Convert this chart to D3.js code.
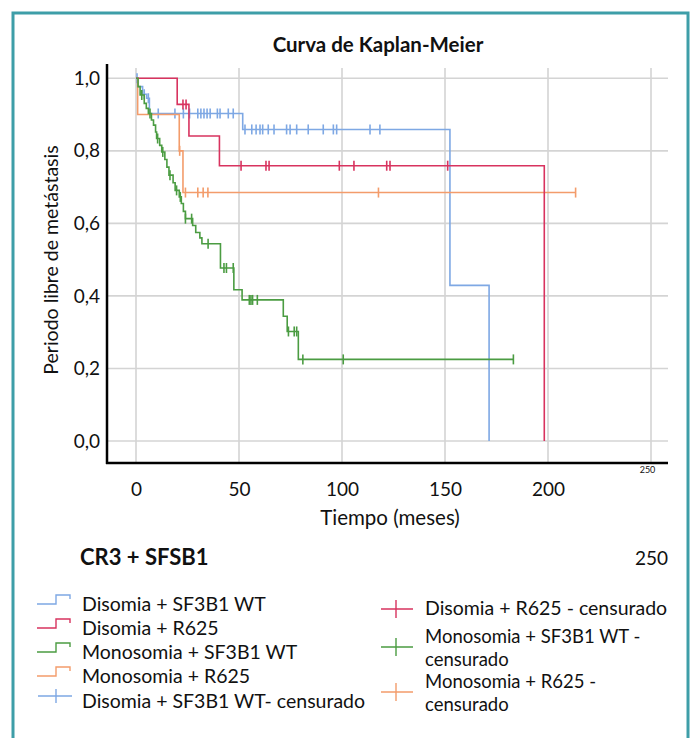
<!DOCTYPE html>
<html>
<head>
<meta charset="utf-8">
<script src="https://cdn.jsdelivr.net/npm/d3@7/dist/d3.min.js"></script>
<style>
  body { margin: 0; background: #fff; }
  text { font-family: Lato, "Open Sans", sans-serif; fill: #111; }
</style>
</head>
<body>
<svg id="chart"></svg>
<script>
// --- datos ---
const xTicks = [0, 50, 100, 150, 200, 250];
const yTicks = [0, 0.2, 0.4, 0.6, 0.8, 1.0];

// [tiempo, supervivencia] de cada escalón
const blueSteps = [[0, 1], [0.8, 0.977], [3.2, 0.956], [5.2, 0.945], [6.5, 0.903], [51.8, 0.859], [152.4, 0.429], [171.4, 0]];
const blueCens = [0.5, 4, 6, 10.8, 18.9, 23, 26, 30, 31.5, 33, 34.5, 36, 39.5, 40.8, 44.8, 47.2,
  52.9, 56.2, 58.3, 60.2, 61.5, 64.2, 67, 73.1, 74.8, 78, 83.6, 90.9, 95.8, 97.4, 113.6, 118.4];
const blueEnd = 171.4;

const redSteps = [[0, 1], [20, 0.928], [25.7, 0.841], [40.5, 0.759], [198.2, 0]];
const redCens = [22.8, 24.3, 51, 63.1, 64.6, 98.7, 105.8, 121.7, 123.3, 151.3];
const redEnd = 198.2;

const greenSteps = [[0, 1], [1, 0.977], [2, 0.954], [4, 0.931], [5, 0.917], [6, 0.903], [7.5, 0.885],
  [8.5, 0.871], [9.5, 0.852], [10, 0.834], [11.5, 0.815], [12.5, 0.797], [14, 0.776], [15, 0.755],
  [16, 0.733], [18, 0.712], [19, 0.691], [21, 0.673], [22, 0.655], [23, 0.633], [24, 0.613],
  [27.5, 0.594], [29, 0.575], [31, 0.56], [32, 0.544], [41, 0.477], [47.5, 0.417], [51.5, 0.389],
  [71.5, 0.344], [73.4, 0.302], [78.8, 0.225]];
const greenCens = [2.8, 6.8, 10.5, 13, 16.5, 19.7, 21.5, 24, 27, 35, 42.7, 43.9, 47.2,
  55, 55.8, 56.6, 58.9, 74, 76.8, 78, 81, 100.6, 183.2];
const greenEnd = 183.2;

const orangeSteps = [[0, 1], [0.8, 0.90], [21, 0.80], [22.8, 0.685]];
const orangeCens = [21.2, 24, 30, 32.6, 34.9, 117.7, 213.4];
const orangeEnd = 213.4;

const legendLeft = ["Disomia + SF3B1 WT", "Disomia + R625", "Monosomia + SF3B1 WT", "Monosomia + R625", "Disomia + SF3B1 WT- censurado"];
const legendRight = [["Disomia + R625 - censurado"], ["Monosomia + SF3B1 WT -", "censurado"], ["Monosomia + R625 -", "censurado"]];

const colors = { blue: "#7ea8e4", red: "#d8335f", green: "#4b9c42", orange: "#f39c6b" };

const series = [
  { steps: blueSteps, cens: blueCens, end: blueEnd, color: colors.blue },
  { steps: orangeSteps, cens: orangeCens, end: orangeEnd, color: colors.orange },
  { steps: redSteps, cens: redCens, end: redEnd, color: colors.red },
  { steps: greenSteps, cens: greenCens, end: greenEnd, color: colors.green }
];

// --- lienzo ---
const W = 691, H = 738;
const svg = d3.select("#chart").attr("width", W).attr("height", H);

// marco
svg.append("rect")
  .attr("x", 13).attr("y", 13).attr("width", 675).attr("height", 740)
  .attr("fill", "none").attr("stroke", "#3e9ea8").attr("stroke-width", 3);

// --- escalas ---
const x = d3.scaleLinear().domain([0, 250]).range([136, 651]);
const y = d3.scaleLinear().domain([0, 1]).range([441, 78.3]);
const plotLeft = 107, plotRight = 668, plotTop = 64, plotBottom = 463;

// rejilla
svg.append("g").selectAll("line").data(xTicks).join("line")
  .attr("x1", d => x(d)).attr("x2", d => x(d))
  .attr("y1", plotTop + 4).attr("y2", plotBottom)
  .attr("stroke", "#d4d4d4").attr("stroke-width", 1.6);
svg.append("g").selectAll("line").data(yTicks).join("line")
  .attr("x1", plotLeft).attr("x2", plotRight)
  .attr("y1", d => y(d)).attr("y2", d => y(d))
  .attr("stroke", "#d4d4d4").attr("stroke-width", 1.6);

// --- curvas ---
const line = d3.line().x(d => x(d[0])).y(d => y(d[1])).curve(d3.curveStepAfter);

function survAt(steps, t) {
  let s = steps[0][1];
  steps.forEach(d => { if (d[0] <= t) s = d[1]; });
  return s;
}

series.forEach(s => {
  const pts = s.steps.concat([[s.end, s.steps[s.steps.length - 1][1]]]);
  svg.append("path")
    .attr("d", line(pts))
    .attr("fill", "none").attr("stroke", s.color).attr("stroke-width", 1.6);

  svg.append("g").selectAll("line").data(s.cens).join("line")
    .attr("x1", d => x(d)).attr("x2", d => x(d))
    .attr("y1", d => y(survAt(s.steps, d)) - 5)
    .attr("y2", d => y(survAt(s.steps, d)) + 5)
    .attr("stroke", s.color).attr("stroke-width", 1.6);
});

// --- ejes ---
svg.append("line").attr("x1", plotLeft).attr("x2", plotLeft).attr("y1", plotTop).attr("y2", plotBottom + 1)
  .attr("stroke", "#000").attr("stroke-width", 2.5);
svg.append("line").attr("x1", plotLeft - 1).attr("x2", plotRight).attr("y1", plotBottom).attr("y2", plotBottom)
  .attr("stroke", "#000").attr("stroke-width", 2.5);

const xAxis = svg.append("g").attr("transform", `translate(0,${plotBottom})`)
  .call(d3.axisBottom(x).tickValues(xTicks).tickSize(0).tickPadding(20));
xAxis.select(".domain").remove();
xAxis.selectAll("text").style("font-size", "19px").style("font-family", "Lato, sans-serif").attr("fill", "#111");
xAxis.selectAll(".tick").filter(d => d === 250).select("text")
  .style("font-size", "9px").attr("fill", "#666").attr("dx", -4).attr("y", 4);

const yAxis = svg.append("g").attr("transform", `translate(${plotLeft},0)`)
  .call(d3.axisLeft(y).tickValues(yTicks).tickSize(0).tickPadding(7)
    .tickFormat(d => d3.format(".1f")(d).replace(".", ",")));
yAxis.select(".domain").remove();
yAxis.selectAll("text").style("font-size", "19px").style("font-family", "Lato, sans-serif").attr("fill", "#111");

// títulos
svg.append("text").attr("x", 378).attr("y", 52).attr("text-anchor", "middle")
  .style("font-size", "20.5px").style("font-weight", "bold").text("Curva de Kaplan-Meier");
svg.append("text").attr("x", 390).attr("y", 525).attr("text-anchor", "middle")
  .style("font-size", "20.5px").text("Tiempo (meses)");
svg.append("text").attr("transform", "translate(58,260) rotate(-90)").attr("text-anchor", "middle")
  .style("font-size", "19.5px").text("Periodo libre de metástasis");

svg.append("text").attr("x", 80).attr("y", 565)
  .style("font-size", "22px").style("font-weight", "bold").text("CR3 + SFSB1");
svg.append("text").attr("x", 668).attr("y", 565).attr("text-anchor", "end")
  .style("font-size", "19px").text("250");

// --- leyenda ---
const leftColors = [colors.blue, colors.red, colors.green, colors.orange, colors.blue];
const leftRows = [611, 635, 659, 683, 708];
legendLeft.forEach((lab, i) => {
  const cy = leftRows[i] - 12;
  const g = svg.append("g");
  if (i < 4) {
    g.append("path")
      .attr("d", `M37,${cy + 5}H56V${cy - 4}H70V${cy}`)
      .attr("fill", "none").attr("stroke", leftColors[i]).attr("stroke-width", 1.4);
  } else {
    g.append("path")
      .attr("d", `M38,${cy}H72M56,${cy - 7}V${cy + 7}`)
      .attr("fill", "none").attr("stroke", leftColors[i]).attr("stroke-width", 1.4);
  }
  g.append("text").attr("x", 82).attr("y", leftRows[i])
    .style("font-size", "19.5px").text(lab);
});

const rightColors = [colors.red, colors.green, colors.orange];
const rightRows = [615, 643, 688];
legendRight.forEach((lines, i) => {
  const by = rightRows[i];
  const cy = lines.length > 1 ? by + 4 : by - 6;
  svg.append("path")
    .attr("d", `M381,${cy}H413M396,${cy - 9}V${cy + 9}`)
    .attr("fill", "none").attr("stroke", rightColors[i]).attr("stroke-width", 1.4);
  lines.forEach((l, j) => {
    svg.append("text").attr("x", 425).attr("y", by + j * 22.5)
      .style("font-size", lines.length > 1 ? "18.5px" : "19.5px").text(l);
  });
});
</script>
</body>
</html>
